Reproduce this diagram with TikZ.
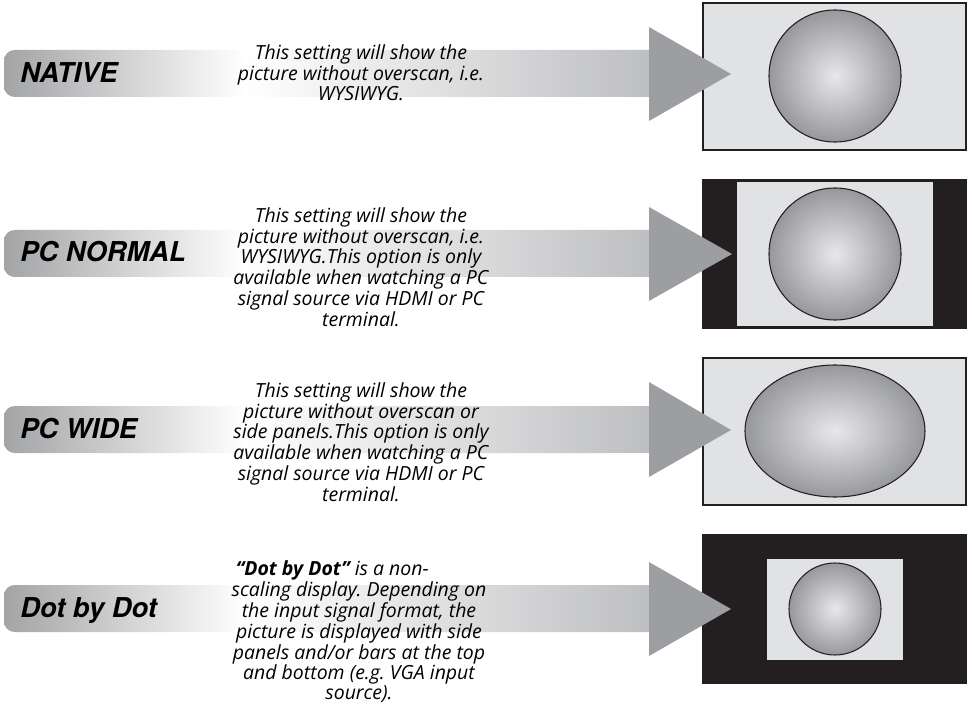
\documentclass[tikz,border=0pt]{standalone}
\usepackage{fontspec}
\setmainfont{Open Sans}
\newfontfamily\labelfont[BoldFeatures={FakeBold=2.5}]{TeX Gyre Heros}
\usepackage{tikz}
\usetikzlibrary{positioning}
\frenchspacing

\definecolor{barL}{HTML}{A3A4A6}
\definecolor{barR}{HTML}{B9BABC}
\definecolor{headgray}{HTML}{9D9EA1}
\definecolor{screenbg}{HTML}{E1E2E4}
\definecolor{panel}{HTML}{231F20}
\definecolor{ballin}{HTML}{E8E8EA}
\definecolor{ballout}{HTML}{97989B}

\pgfdeclarehorizontalshading{barshade}{100bp}{color(0bp)=(barL); color(25bp)=(barL); color(42.8bp)=(white); color(75bp)=(barR); color(100bp)=(barR)}

\begin{document}
\begin{tikzpicture}[x=0.75pt, y=-0.75pt,
  modelabel/.style={font=\labelfont\bfseries\itshape\fontsize{20.5}{22}\selectfont, anchor=base west, inner sep=0pt},
  desc/.style={font=\itshape\frenchspacing\fontsize{14.6}{13.8}\selectfont, align=center, inner sep=0pt},
  bar/.style={shading=barshade, rounded corners=8},
  head/.style={fill=headgray},
  screen/.style={draw=panel, line width=1.2pt, fill=screenbg},
  blackscreen/.style={draw=panel, line width=1.2pt, fill=panel},
  ball/.style={draw=panel, line width=0.8pt, shading=radial, inner color=ballin, outer color=ballout}]

\useasboundingbox (0,0) rectangle (972,713);

% NATIVE
\shade[bar] (4,50) rectangle (680,97);
\draw[screen] (703,3) rectangle (966,150);
\shade[ball] (835,76) circle (66);
\fill[head] (649,27) -- (731,74) -- (649,121) -- cycle;
\node[modelabel] (native) at (20,83) {NATIVE};
\node[desc] (nativetext) at (361,73)
{This setting will show the\\picture without overscan, i.e.\\WYSIWYG.};

% PC NORMAL
\shade[bar] (4,230) rectangle (680,277);
\draw[blackscreen] (703,180) rectangle (966,328);
\fill[screenbg] (737,182) rectangle (933,326);
\shade[ball] (835,254) circle (66);
\fill[head] (649,207) -- (732,254) -- (649,301) -- cycle;
\node[modelabel] (pcnormal) at (20,262) {PC NORMAL};
\node[desc] (pcnormaltext) at (361,267)
{This setting will show the\\picture without overscan, i.e.\\WYSIWYG.This option is only\\available when watching a PC\\signal source via HDMI or PC\\terminal.};

% PC WIDE
\shade[bar] (4,406) rectangle (680,453);
\draw[screen] (703,358) rectangle (966,505);
\shade[ball] (835,431) ellipse (90 and 66);
\fill[head] (649,382) -- (731,430) -- (649,477) -- cycle;
\node[modelabel] (pcwide) at (20,438) {PC WIDE};
\node[desc] (pcwidetext) at (361,442)
{This setting will show the\\picture without overscan or\\side panels.This option is only\\available when watching a PC\\signal source via HDMI or PC\\terminal.};

% Dot by Dot
\shade[bar] (4,585) rectangle (680,632);
\draw[blackscreen] (703,535) rectangle (966,683);
\fill[screenbg] (767,559) rectangle (903,660);
\shade[ball] (835,609) circle (46);
\fill[head] (649,562) -- (731,609) -- (649,656) -- cycle;
\node[modelabel] (dotbydot) at (20,617) {Dot by Dot};
\node[desc] (dotbydottext) at (359,632)
{{\bfseries “Dot by Dot”} is a non-\hspace*{40pt}\\scaling display. Depending on\\the input signal format, the\\picture is displayed with side\\panels and/or bars at the top\\and bottom (e.g. VGA input\\source).};

\end{tikzpicture}
\end{document}
